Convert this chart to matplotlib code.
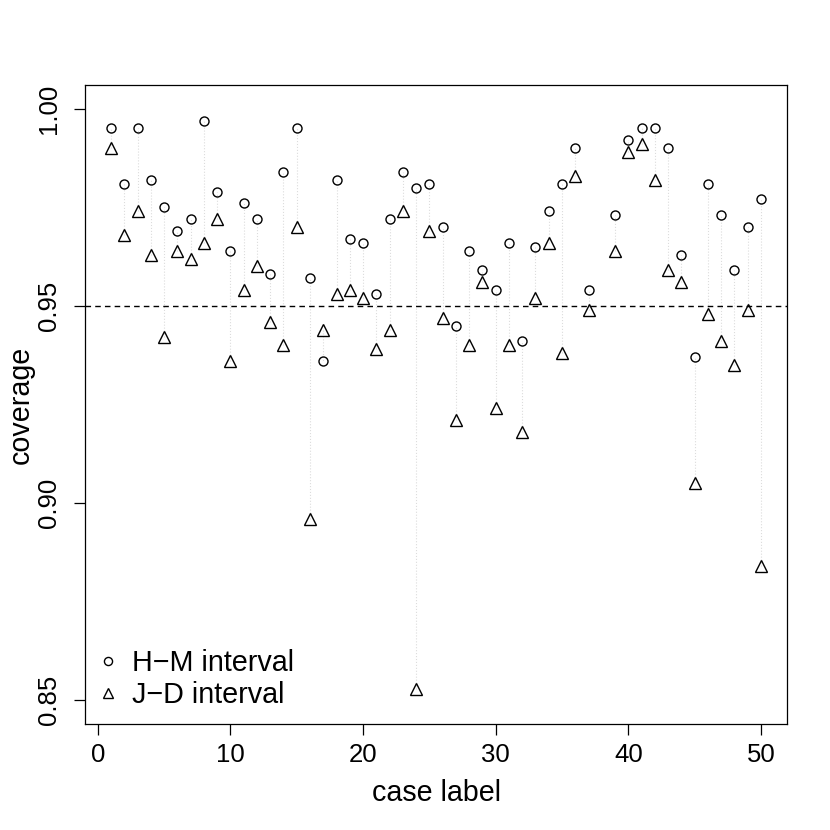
import numpy as np
import matplotlib
matplotlib.use("Agg")
import matplotlib.pyplot as plt

plt.rcParams['font.family'] = ['Liberation Sans', 'DejaVu Sans']

# case 38 has no value in the chart
case_label = list(range(1, 51))
hm_coverage = [0.995, 0.981, 0.995, 0.982, 0.975, 0.969, 0.972, 0.997, 0.979, 0.964,
               0.976, 0.972, 0.958, 0.984, 0.995, 0.957, 0.936, 0.982, 0.967, 0.966,
               0.953, 0.972, 0.984, 0.980, 0.981, 0.970, 0.945, 0.964, 0.959, 0.954,
               0.966, 0.941, 0.965, 0.974, 0.981, 0.990, 0.954, np.nan, 0.973, 0.992,
               0.995, 0.995, 0.990, 0.963, 0.937, 0.981, 0.973, 0.959, 0.970, 0.977]
jd_coverage = [0.990, 0.968, 0.974, 0.963, 0.942, 0.964, 0.962, 0.966, 0.972, 0.936,
               0.954, 0.960, 0.946, 0.940, 0.970, 0.896, 0.944, 0.953, 0.954, 0.952,
               0.939, 0.944, 0.974, 0.853, 0.969, 0.947, 0.921, 0.940, 0.956, 0.924,
               0.940, 0.918, 0.952, 0.966, 0.938, 0.983, 0.949, np.nan, 0.964, 0.989,
               0.991, 0.982, 0.959, 0.956, 0.905, 0.948, 0.941, 0.935, 0.949, 0.884]
nominal = 0.95

x = np.array(case_label)
hm = np.array(hm_coverage)
jd = np.array(jd_coverage)
ok = ~np.isnan(hm)

fig = plt.figure(figsize=(8.3, 8.3), dpi=100)
ax = fig.add_axes([85/830, 1 - 724/830, 702/830, 639/830])

ax.vlines(x[ok], jd[ok], hm[ok], colors='#dcdcdc', linestyles=':', linewidth=0.8, zorder=1)
ax.axhline(nominal, color='black', linestyle=(0, (4, 3)), linewidth=1.0, zorder=1)

ax.plot(x[ok], hm[ok], 'o', ms=6.5, mfc='none', mec='black', mew=1.0, ls='none',
        label='H\u2212M interval', zorder=3)
ax.plot(x[ok], jd[ok], '^', ms=8.5, mfc='none', mec='black', mew=1.0, ls='none',
        label='J\u2212D interval', zorder=3)

ax.set_xlim(1 - 0.04 * 49, 50 + 0.04 * 49)
ax.set_ylim(0.85 - 0.04 * 0.15, 1.0 + 0.04 * 0.15)
ax.set_xticks([0, 10, 20, 30, 40, 50])
ax.set_yticks([0.85, 0.90, 0.95, 1.00])
ax.set_yticklabels(['0.85', '0.90', '0.95', '1.00'], rotation=90, va='center')

ax.tick_params(axis='both', direction='out', length=8, width=0.9, labelsize=18.5)
ax.tick_params(axis='x', pad=6)
ax.tick_params(axis='y', pad=9)
for s in ax.spines.values():
    s.set_linewidth(0.9)

ax.set_xlabel('case label', fontsize=20.6)
ax.set_ylabel('coverage', fontsize=20.6)
ax.xaxis.set_label_coords(0.5, -0.086)
ax.yaxis.set_label_coords(-0.071, 0.5)

ax.legend(loc='lower left', bbox_to_anchor=(0.016, 0.024), frameon=False, fontsize=20.7,
          borderpad=0, borderaxespad=0, handlelength=0.8, handletextpad=0.45,
          labelspacing=0.13, markerscale=0.9)

fig.savefig('out.png', dpi=100)
